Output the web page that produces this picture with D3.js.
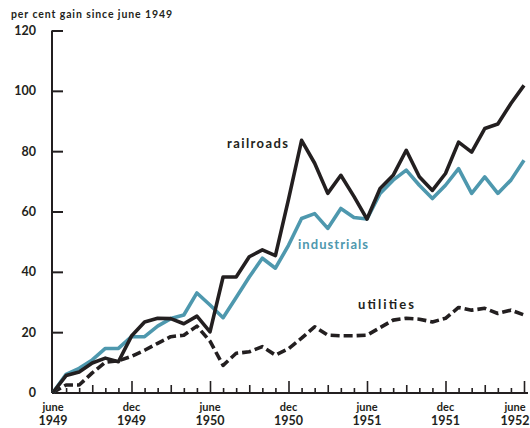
<!DOCTYPE html>
<html><head><meta charset="utf-8">
<script src="https://cdn.jsdelivr.net/npm/d3@7"></script>
<style>
body{margin:0;background:#fff;}
text{font-family:Lato,"Open Sans",sans-serif;font-weight:bold;}
</style></head>
<body><svg id="c" width="530" height="428"></svg>
<script>
// months since June 1949 (0..36)
const months = d3.range(0, 37);
const railroads = [0,5.6,6.8,9.8,11.4,10.2,18.7,23.4,24.6,24.5,22.8,25.3,20.1,38.3,38.3,45,47.3,45.4,64,83.6,76,66,72,65,57.5,67.6,72,80.3,71.5,67,72.6,83,79.7,87.5,89,95.8,101.8];
const industrials = [0,6,8,10.8,14.6,14.6,18.5,18.5,22,24.5,25.7,33,29,24.8,31.5,38.3,44.5,41.2,48.8,57.7,59.3,54.4,61,58,57.5,66,70.4,73.7,68.7,64.3,68.7,74.2,66,71.5,66,70.4,77];
const utilities = [0,2.5,2.5,6.5,10,10.5,12,14,16.3,18.5,19,22,17,9,13,13.5,15.2,12.4,14.5,18,21.8,19,18.8,18.8,19,21.5,24,24.6,24.3,23.4,24.6,28.2,27.3,27.9,26.2,27.3,25.7];
const yTicks = [0,20,40,60,80,100,120];
const xLabelMonths = [0,6,12,18,24,30,36];
const xLabels = [["june","1949"],["dec","1949"],["june","1950"],["dec","1950"],["june","1951"],["dec","1951"],["june","1952"]];
const yTitle = "per cent gain since june 1949";

const svg = d3.select("#c");
const x = d3.scaleLinear().domain([0,36]).range([53,524]);
const y = d3.scaleLinear().domain([0,120]).range([392.5,30.5]);
const ink = "#231f20", blue = "#4e98ae";

// title
svg.append("text").attr("x",11).attr("y",18).attr("font-size",10.5).attr("fill",ink)
  .attr("textLength",161).attr("lengthAdjust","spacing").text(yTitle);

// y axis
const yAx = svg.append("g").attr("transform","translate(52,0)")
  .call(d3.axisRight(y).tickValues(yTicks).tickSize(11).tickFormat(""));
yAx.select(".domain").attr("stroke",ink).attr("stroke-width",2).attr("d","M0,30.5V393");
yAx.selectAll(".tick line").attr("stroke",ink).attr("stroke-width",2);
svg.selectAll(".ylab").data(yTicks).join("text").attr("class","ylab")
  .attr("x",36).attr("y",d=>y(d)+4.5).attr("text-anchor","end").attr("font-size",12.5).attr("fill",ink).text(d=>d);

// x axis
const xAx = svg.append("g").attr("transform","translate(0,393)")
  .call(d3.axisTop(x).tickValues(months.slice(1)).tickSize(5).tickFormat(""));
xAx.select(".domain").attr("stroke",ink).attr("stroke-width",2).attr("d","M52,0H528");
xAx.selectAll(".tick line").attr("stroke",ink).attr("stroke-width",1.6)
  .attr("y2",d=> d%6===0 ? -12 : (d%3===0 ? -8 : -5));
const xl = svg.selectAll(".xlab").data(xLabelMonths).join("text").attr("class","xlab")
  .attr("text-anchor","middle").attr("font-size",11).attr("fill",ink)
  .attr("transform",(d,i)=>`translate(${i===6?x(d)-9:x(d)},0)`);
xl.append("tspan").attr("x",0).attr("y",411).text((d,i)=>xLabels[i][0]);
xl.append("tspan").attr("x",0).attr("y",425).attr("font-size",12.5).text((d,i)=>xLabels[i][1]);

// lines
const line = d3.line().x((d,i)=>x(months[i])).y(d=>y(d)).curve(d3.curveLinear);
svg.append("path").datum(utilities).attr("d",line).attr("fill","none").attr("stroke",ink)
  .attr("stroke-width",3.6).attr("stroke-dasharray","9,4").attr("stroke-linejoin","round");
svg.append("path").datum(industrials).attr("d",line).attr("fill","none").attr("stroke",blue)
  .attr("stroke-width",3.6).attr("stroke-linejoin","round");
svg.append("path").datum(railroads).attr("d",line).attr("fill","none").attr("stroke",ink)
  .attr("stroke-width",3.6).attr("stroke-linejoin","round");

// series labels
svg.append("text").attr("x",227).attr("y",148).attr("font-size",13).attr("fill",ink)
  .attr("textLength",61).attr("lengthAdjust","spacing").text("railroads");
svg.append("text").attr("x",298).attr("y",249).attr("font-size",13).attr("fill",blue)
  .attr("textLength",70).attr("lengthAdjust","spacing").text("industrials");
svg.append("text").attr("x",358).attr("y",309).attr("font-size",13).attr("fill",ink)
  .attr("textLength",56).attr("lengthAdjust","spacing").text("utilities");
</script></body></html>
